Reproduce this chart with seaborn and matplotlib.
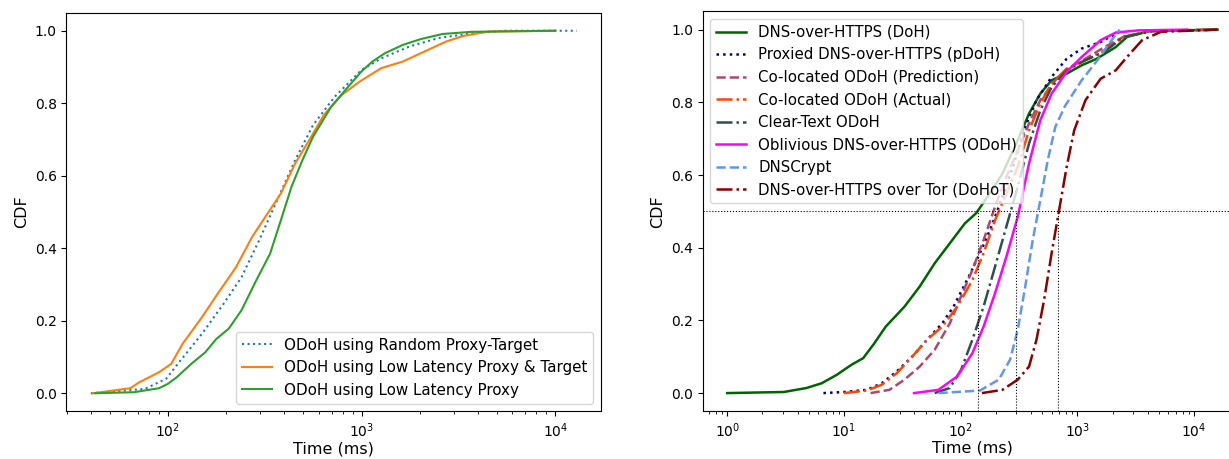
import matplotlib
matplotlib.use("Agg")
import matplotlib.pyplot as plt
import seaborn as sns
import pandas as pd

# ---------------- Left panel data ----------------
left_labels = ["ODoH using Random Proxy-Target",
               "ODoH using Low Latency Proxy & Target",
               "ODoH using Low Latency Proxy"]
rand_x = [40, 76, 98, 116, 150, 194, 240, 296, 367, 454, 562, 727, 1000, 1265, 1778, 2500, 3990, 5500, 12900]
rand_y = [0, 0.012, 0.04, 0.09, 0.164, 0.247, 0.32, 0.422, 0.533, 0.643, 0.74, 0.818, 0.892, 0.924, 0.957, 0.98, 0.995, 1.0, 1.0]
lpt_x = [41, 64, 71, 90, 104, 119, 150, 181, 225, 272, 310, 383, 454, 538, 639, 790, 979, 1265, 1632, 2022, 2722, 3373, 4540, 10000]
lpt_y = [0, 0.014, 0.03, 0.058, 0.081, 0.136, 0.21, 0.275, 0.348, 0.431, 0.477, 0.551, 0.634, 0.699, 0.768, 0.823, 0.86, 0.897, 0.915, 0.938, 0.97, 0.986, 0.998, 1.0]
lp_x = [42, 67, 90, 100, 111, 132, 156, 178, 206, 240, 285, 337, 383, 435, 495, 562, 696, 826, 1000, 1137, 1320, 1632, 2022, 2613, 3672, 10000]
lp_y = [0, 0.003, 0.014, 0.026, 0.044, 0.081, 0.113, 0.15, 0.178, 0.229, 0.31, 0.385, 0.477, 0.57, 0.643, 0.708, 0.79, 0.837, 0.888, 0.915, 0.938, 0.961, 0.977, 0.991, 0.997, 1.0]

# ---------------- Right panel data ----------------
right_labels = ["DNS-over-HTTPS (DoH)",
                "Proxied DNS-over-HTTPS (pDoH)",
                "Co-located ODoH (Prediction)",
                "Co-located ODoH (Actual)",
                "Clear-Text ODoH",
                "Oblivious DNS-over-HTTPS (ODoH)",
                "DNSCrypt",
                "DNS-over-HTTPS over Tor (DoHoT)"]
doh_x = [1, 3.05, 4.77, 6.43, 8.65, 11.6, 14.6, 18.2, 22.8, 33, 44.5, 59.8, 80.6, 108.6, 135.6, 169.6, 228, 308, 385, 481, 601, 809, 1089, 1466, 2128, 2661, 4157, 15850]
doh_y = [0, 0.003, 0.014, 0.027, 0.05, 0.078, 0.096, 0.137, 0.183, 0.238, 0.293, 0.357, 0.412, 0.467, 0.495, 0.54, 0.604, 0.696, 0.769, 0.824, 0.861, 0.879, 0.902, 0.92, 0.952, 0.98, 0.996, 1.0]
pdoh_x = [6.67, 10.0, 15.7, 21.1, 28.4, 38.3, 51.6, 69.5, 86.8, 117, 146, 183, 228, 286, 357, 446, 601, 809, 1089, 1581, 2291, 2460]
pdoh_y = [0, 0.003, 0.009, 0.027, 0.06, 0.1, 0.147, 0.192, 0.238, 0.32, 0.385, 0.458, 0.54, 0.632, 0.733, 0.806, 0.87, 0.92, 0.948, 0.966, 0.994, 1.0]
pred_x = [16.9, 24.5, 33, 44.5, 59.8, 80.6, 100.7, 126, 157, 197, 246, 308, 385, 481, 647, 871, 1172, 1702, 2473, 4157, 12600]
pred_y = [0, 0.009, 0.037, 0.073, 0.119, 0.192, 0.266, 0.339, 0.421, 0.513, 0.595, 0.668, 0.742, 0.806, 0.861, 0.897, 0.92, 0.952, 0.98, 0.996, 1.0]
act_x = [10, 15.7, 21.1, 28.4, 38.3, 51.6, 69.5, 93.5, 126, 157, 197, 246, 308, 385, 481, 601, 809, 1172, 1702, 2473, 4157, 15850]
act_y = [0, 0.007, 0.023, 0.055, 0.1, 0.147, 0.183, 0.238, 0.311, 0.385, 0.476, 0.549, 0.623, 0.723, 0.797, 0.852, 0.893, 0.916, 0.943, 0.98, 0.996, 1.0]
clr_x = [59.8, 80.6, 100.7, 126, 157, 197, 246, 308, 385, 481, 601, 809, 1172, 1702, 2473, 4400, 15850]
clr_y = [0, 0.014, 0.064, 0.147, 0.238, 0.348, 0.458, 0.568, 0.687, 0.778, 0.842, 0.888, 0.916, 0.939, 0.98, 0.996, 1.0]
odoh_x = [39.8, 64.5, 93.5, 126, 157, 197, 246, 308, 385, 481, 601, 809, 1089, 1581, 2128, 3326, 8700]
odoh_y = [0, 0.009, 0.046, 0.11, 0.183, 0.275, 0.375, 0.485, 0.632, 0.751, 0.824, 0.884, 0.925, 0.971, 0.992, 0.998, 1.0]
crypt_x = [64.5, 146, 212, 265, 308, 357, 414, 481, 557, 647, 783, 1089, 1510, 1900, 2300]
crypt_y = [0, 0.007, 0.037, 0.092, 0.174, 0.293, 0.421, 0.531, 0.641, 0.733, 0.79, 0.861, 0.919, 0.965, 1.0]
tor_x = [152, 228, 308, 385, 446, 518, 601, 697, 809, 938, 1172, 1581, 2128, 2661, 3581, 5200, 15850]
tor_y = [0, 0.009, 0.037, 0.073, 0.147, 0.256, 0.385, 0.504, 0.623, 0.723, 0.806, 0.865, 0.888, 0.925, 0.971, 0.994, 1.0]
medians = [142, 300, 687]

fig = plt.figure(figsize=(12.29, 4.59), dpi=100)
ax1 = fig.add_axes([0.0541, 0.1037, 0.4349, 0.8688])
ax2 = fig.add_axes([0.5718, 0.1040, 0.4388, 0.8710])

left_series = [(rand_x, rand_y, "tab:blue", ":"),
               (lpt_x, lpt_y, "tab:orange", "-"),
               (lp_x, lp_y, "tab:green", "-")]
for (xs, ys, c, ls), lab in zip(left_series, left_labels):
    df = pd.DataFrame({"Time": xs, "CDF": ys})
    sns.lineplot(data=df, x="Time", y="CDF", ax=ax1, color=c, linestyle=ls,
                 linewidth=1.5, label=lab, estimator=None, sort=False)
ax1.set_xscale("log")
ax1.legend(loc="lower right", fontsize=10.9)

right_series = [(doh_x, doh_y, "darkgreen", "-"),
                (pdoh_x, pdoh_y, "navy", ":"),
                (pred_x, pred_y, "#b0466e", "--"),
                (act_x, act_y, "orangered", "-."),
                (clr_x, clr_y, "darkslategray", "-."),
                (odoh_x, odoh_y, "magenta", "-"),
                (crypt_x, crypt_y, "cornflowerblue", "--"),
                (tor_x, tor_y, "darkred", "-.")]
for (xs, ys, c, ls), lab in zip(right_series, right_labels):
    df = pd.DataFrame({"Time": xs, "CDF": ys})
    sns.lineplot(data=df, x="Time", y="CDF", ax=ax2, color=c, linestyle=ls,
                 linewidth=1.8, label=lab, estimator=None, sort=False)
ax2.set_xscale("log")
ax2.axhline(0.5, color="black", linestyle=":", linewidth=0.8)
for m in medians:
    ax2.axvline(m, ymax=0.5, color="black", linestyle=":", linewidth=0.8)
ax2.legend(loc="upper left", fontsize=10.8)

for ax in (ax1, ax2):
    ax.set_xlabel("Time (ms)", fontsize=11.5, labelpad=1)
    ax.set_ylabel("CDF", fontsize=11.5)
    ax.tick_params(labelsize=10)

fig.savefig("out.png", dpi=100)
